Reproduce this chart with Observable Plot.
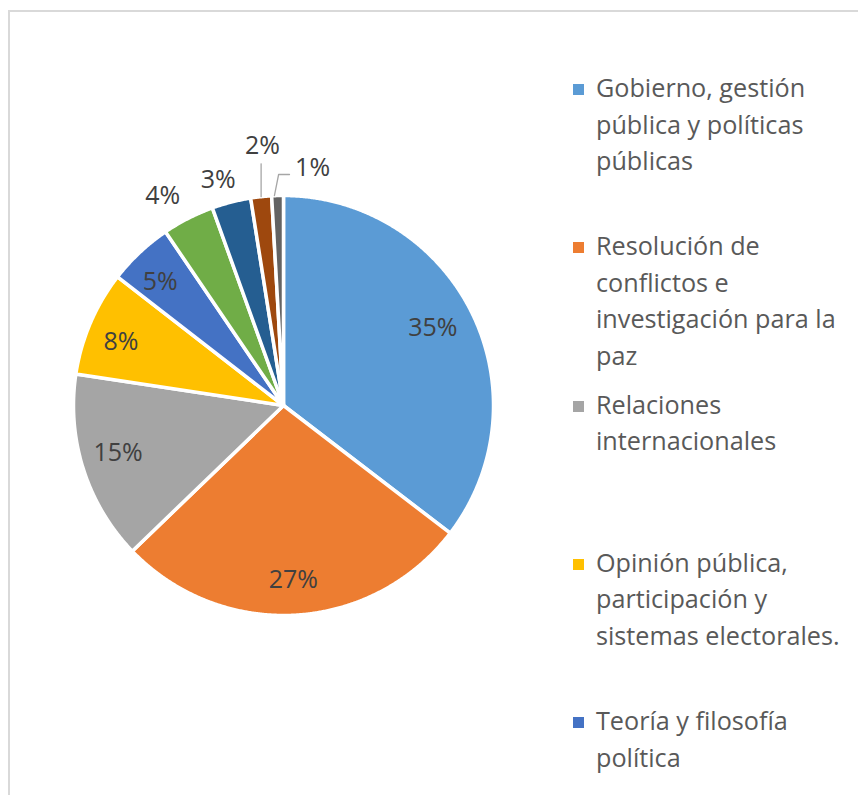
<!DOCTYPE html>
<html><head><meta charset="utf-8">
<script src="https://cdn.jsdelivr.net/npm/d3@7"></script>
<script src="https://cdn.jsdelivr.net/npm/@observablehq/plot@0.6"></script>
<style>
html,body{margin:0;padding:0;background:#fff;overflow:hidden}
#wrap{position:relative;width:858px;height:795px;overflow:hidden;background:#fff}
#frame{position:absolute;left:8px;top:10px;width:1000px;height:1000px;border-left:2px solid #d9d9d9;border-top:2px solid #d9d9d9}
#chart{position:absolute;left:0;top:0}
.legend-item{position:absolute;left:573px;font-family:"Open Sans";font-size:25.2px;line-height:36.5px;color:#595959;white-space:nowrap}
.sw{position:absolute;left:0;top:15px;width:11px;height:11px}
.txt{position:absolute;left:23px;top:0}
</style>
</head><body>
<div id="wrap"><div id="frame"></div><div id="chart"></div><div id="legend"></div></div>
<script>
// ---- data ----
const sliceIds = ["s1","s2","s3","s4","s5","s6","s7","s8","s9"];
const values = [35.4, 27.4, 14.6, 8.1, 5.0, 4.0, 3.0, 1.6, 0.9];
const labels = ["35%","27%","15%","8%","5%","4%","3%","2%","1%"];
const colors = ["#5B9BD5","#ED7D31","#A5A5A5","#FFC000","#4472C4","#70AD47","#255E91","#9E480E","#636363"];
const legendCategories = [
  ["Gobierno, gestión", "pública y políticas", "públicas"],
  ["Resolución de", "conflictos e", "investigación para la", "paz"],
  ["Relaciones", "internacionales"],
  ["Opinión pública,", "participación y", "sistemas electorales."],
  ["Teoría y filosofía", "política"]
];

// ---- layout (label placement, not data) ----
const labelR  = [0.80, 0.83, 0.82, 0.83, 0.83, 1.15, 1.12, 1.24, 1.14];
const labelDA = [-1, 0, 1.5, -2, -1.8, -3, -1.7, 1.5, 8.6]; // degrees

const arcs = d3.pie().sort(null).value(d => d)(values);
const pts = [];
arcs.forEach((a, i) => {
  const id = sliceIds[i];
  pts.push({id, x: 0, y: 0});
  const n = Math.max(2, Math.ceil((a.endAngle - a.startAngle) / 0.005));
  for (let k = 0; k <= n; k++) {
    const t = a.startAngle + (a.endAngle - a.startAngle) * k / n;
    pts.push({id, x: Math.sin(t), y: Math.cos(t)});
  }
  pts.push({id, x: 0, y: 0});
});

const labelData = arcs.map((a, i) => {
  const m = (a.startAngle + a.endAngle) / 2 + labelDA[i] * Math.PI / 180;
  return {x: labelR[i] * Math.sin(m), y: labelR[i] * Math.cos(m), text: labels[i]};
});

// leader lines for the two smallest slices
const mid = i => (arcs[i].startAngle + arcs[i].endAngle) / 2;
const leaders = [];
{
  const m = mid(7), ex = Math.sin(m), ey = Math.cos(m);
  leaders.push({id: "l7", x: ex, y: ey}, {id: "l7", x: ex, y: labelData[7].y - 0.085});
}
{
  const m = mid(8) - 0.015, ex = Math.sin(m), ey = Math.cos(m);
  leaders.push({id: "l8", x: ex, y: ey}, {id: "l8", x: ex + 0.02, y: 1.1}, {id: "l8", x: labelData[8].x - 0.11, y: 1.1});
}

const W = 858, H = 795, cx = 283, cy = 405, R = 210;
const chart = Plot.plot({
  width: W, height: H,
  marginLeft: cx - R, marginRight: W - (cx + R),
  marginTop: cy - R, marginBottom: H - (cy + R),
  x: {domain: [-1, 1], axis: null},
  y: {domain: [-1, 1], axis: null},
  color: {domain: sliceIds, range: colors},
  style: {background: "transparent", overflow: "visible", fontFamily: "Open Sans"},
  marks: [
    Plot.line(pts, {x: "x", y: "y", z: "id", fill: "id", stroke: "white", strokeWidth: 3.5, strokeLinejoin: "round", curve: "linear"}),
    Plot.line(leaders, {x: "x", y: "y", z: "id", stroke: "#a6a6a6", strokeWidth: 1.3}),
    Plot.text(labelData, {x: "x", y: "y", text: "text", fontSize: 25, fill: "#404040"})
  ]
});
document.getElementById("chart").appendChild(chart);

const leg = document.getElementById("legend");
legendCategories.forEach((lines, i) => {
  const item = document.createElement("div");
  item.className = "legend-item";
  item.style.top = (69 + i * 158.3) + "px";
  const sw = document.createElement("div");
  sw.className = "sw";
  sw.style.background = colors[i];
  const t = document.createElement("div");
  t.className = "txt";
  t.innerHTML = lines.map(l => l.replace(/&/g, "&amp;")).join("<br>");
  item.appendChild(sw); item.appendChild(t);
  leg.appendChild(item);
});
</script>
</body></html>
